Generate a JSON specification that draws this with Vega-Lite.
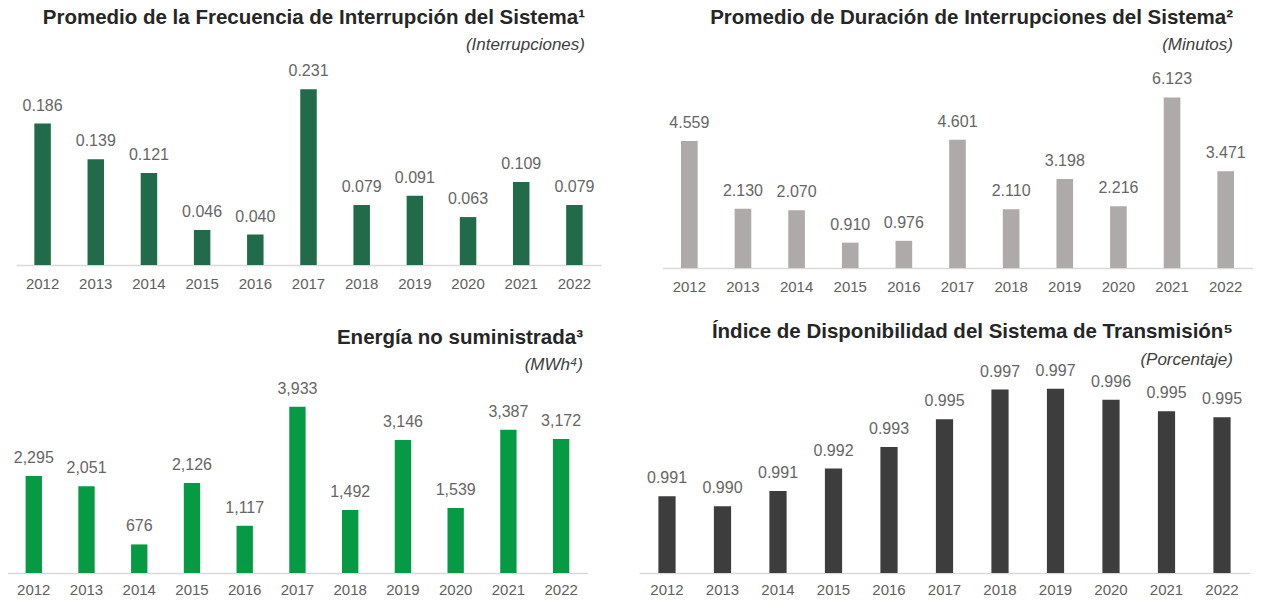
{
  "$schema": "https://vega.github.io/schema/vega-lite/v6.json",
  "padding": {"left": 0, "top": 7, "right": 0, "bottom": 0},
  "background": "white",
  "config": {
    "view": {"stroke": null, "fill": "white"},
    "font": "Liberation Sans",
    "title": {"font": "Liberation Sans", "fontSize": 20.5, "fontWeight": "bold", "color": "#262626", "anchor": "end", "frame": "group", "subtitleFont": "Liberation Sans", "subtitleFontSize": 17, "subtitleFontStyle": "italic", "subtitleColor": "#404040", "subtitlePadding": 9},
    "axisX": {"title": null, "ticks": false, "labelAngle": 0, "labelFontSize": 15, "labelColor": "#606060", "labelFont": "Liberation Sans", "domainColor": "#d9d9d9", "domainWidth": 1.5, "labelPadding": 11},
    "text": {"fontSize": 16, "color": "#666666", "font": "Liberation Sans", "baseline": "alphabetic"}
  },
  "columns": 2,
  "spacing": {"column": 18, "row": 105},
  "bounds": "flush",
  "concat": [
    {
      "width": 620, "height": 205,
      "title": {"text": "Promedio de la Frecuencia de Interrupción del Sistema¹", "subtitle": "(Interrupciones)", "dx": -35, "offset": 7},
      "data": {"values": [
        {"year": "2012", "v": 0.186}, {"year": "2013", "v": 0.139}, {"year": "2014", "v": 0.121},
        {"year": "2015", "v": 0.046}, {"year": "2016", "v": 0.040}, {"year": "2017", "v": 0.231},
        {"year": "2018", "v": 0.079}, {"year": "2019", "v": 0.091}, {"year": "2020", "v": 0.063},
        {"year": "2021", "v": 0.109}, {"year": "2022", "v": 0.079}
      ]},
      "encoding": {
        "x": {"field": "year", "type": "ordinal", "scale": {"range": [16, 601], "paddingInner": 0.69, "paddingOuter": 0.345}},
        "y": {"field": "v", "type": "quantitative", "scale": {"domain": [0, 0.2695]}, "axis": null}
      },
      "layer": [
        {"mark": {"type": "bar", "color": "#216b4a"}},
        {"mark": {"type": "text", "dy": -13}, "encoding": {"text": {"field": "v", "type": "quantitative", "format": ".3f"}}}
      ]
    },
    {
      "width": 631, "height": 208,
      "title": {"text": "Promedio de Duración de Interrupciones del Sistema²", "subtitle": "(Minutos)", "dx": -36, "offset": 7},
      "data": {"values": [
        {"year": "2012", "v": 4.559}, {"year": "2013", "v": 2.130}, {"year": "2014", "v": 2.070},
        {"year": "2015", "v": 0.910}, {"year": "2016", "v": 0.976}, {"year": "2017", "v": 4.601},
        {"year": "2018", "v": 2.110}, {"year": "2019", "v": 3.198}, {"year": "2020", "v": 2.216},
        {"year": "2021", "v": 6.123}, {"year": "2022", "v": 3.471}
      ]},
      "encoding": {
        "x": {"field": "year", "type": "ordinal", "scale": {"range": [24.5, 614.5], "paddingInner": 0.69, "paddingOuter": 0.345}},
        "y": {"field": "v", "type": "quantitative", "scale": {"domain": [0, 7.466]}, "axis": null}
      },
      "layer": [
        {"mark": {"type": "bar", "color": "#aeaaa9"}},
        {"mark": {"type": "text", "dy": -13}, "encoding": {"text": {"field": "v", "type": "quantitative", "format": ".3f"}}}
      ]
    },
    {
      "width": 620, "height": 200,
      "title": {"text": "Energía no suministrada³", "subtitle": "(MWh⁴)", "dx": -37, "offset": 0},
      "data": {"values": [
        {"year": "2012", "v": 2295}, {"year": "2013", "v": 2051}, {"year": "2014", "v": 676},
        {"year": "2015", "v": 2126}, {"year": "2016", "v": 1117}, {"year": "2017", "v": 3933},
        {"year": "2018", "v": 1492}, {"year": "2019", "v": 3146}, {"year": "2020", "v": 1539},
        {"year": "2021", "v": 3387}, {"year": "2022", "v": 3172}
      ]},
      "encoding": {
        "x": {"field": "year", "type": "ordinal", "scale": {"range": [7.4, 587.5], "paddingInner": 0.69, "paddingOuter": 0.345}, "axis": {"labelPadding": 9}},
        "y": {"field": "v", "type": "quantitative", "scale": {"domain": [0, 4730]}, "axis": null}
      },
      "layer": [
        {"mark": {"type": "bar", "color": "#069a45"}},
        {"mark": {"type": "text", "dy": -13}, "encoding": {"text": {"field": "v", "type": "quantitative", "format": ",.0f"}}}
      ]
    },
    {
      "width": 631, "height": 200,
      "title": {"text": "Índice de Disponibilidad del Sistema de Transmisión⁵", "subtitle": "(Porcentaje)", "dx": -36, "offset": -5},
      "data": {"values": [
        {"year": "2012", "v": 0.99066}, {"year": "2013", "v": 0.99011}, {"year": "2014", "v": 0.99096},
        {"year": "2015", "v": 0.9922}, {"year": "2016", "v": 0.9934}, {"year": "2017", "v": 0.99494},
        {"year": "2018", "v": 0.99659}, {"year": "2019", "v": 0.99664}, {"year": "2020", "v": 0.99603},
        {"year": "2021", "v": 0.99538}, {"year": "2022", "v": 0.99505}
      ]},
      "encoding": {
        "x": {"field": "year", "type": "ordinal", "scale": {"range": [1.25, 611.75], "paddingInner": 0.69, "paddingOuter": 0.345}, "axis": {"labelPadding": 9}},
        "y": {"field": "v", "type": "quantitative", "scale": {"domain": [0.9864, 0.99751], "zero": false}, "axis": null}
      },
      "layer": [
        {"mark": {"type": "bar", "color": "#3d3d3d", "clip": true}},
        {"mark": {"type": "text", "dy": -13}, "encoding": {"text": {"field": "v", "type": "quantitative", "format": ".3f"}}}
      ]
    }
  ]
}
